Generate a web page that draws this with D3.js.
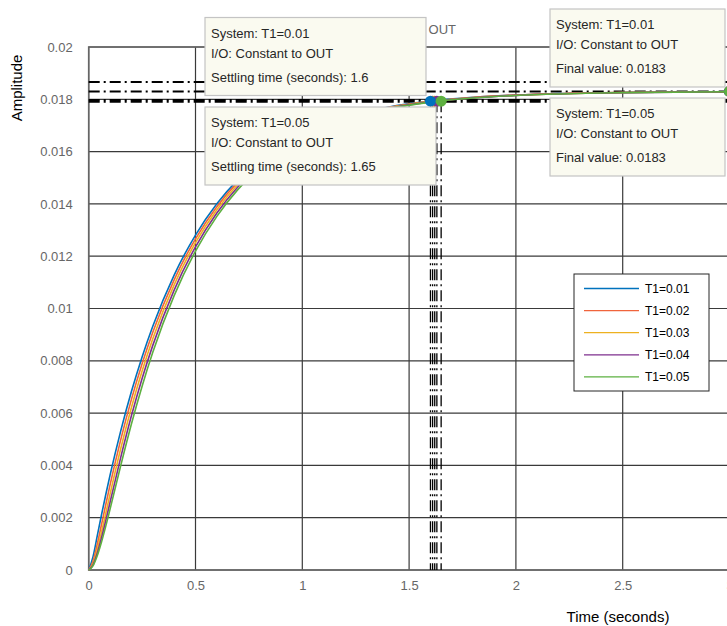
<!DOCTYPE html>
<html>
<head>
<meta charset="utf-8">
<script src="https://cdn.jsdelivr.net/npm/d3@7"></script>
<style>
  body { margin: 0; background: #fff; }
  text { font-family: "Liberation Sans", Arial, Helvetica, sans-serif; }
</style>
</head>
<body>
<svg id="chart" width="727" height="626"></svg>
<script>
// Data
var seriesNames = ["T1=0.01", "T1=0.02", "T1=0.03", "T1=0.04", "T1=0.05"];
var seriesColors = ["#0072BD", "#F0643C", "#EDB120", "#7E2F8E", "#5DB040"];

var timeSec = [0, 0.02, 0.04, 0.06, 0.08, 0.1, 0.15, 0.2, 0.25, 0.3, 0.4, 0.5, 0.6, 0.7, 0.8, 0.9, 1.0, 1.2, 1.4, 1.6, 1.8, 2.0, 2.5, 3.0];

var ampT1_001 = [0, 0.000501, 0.001304, 0.002112, 0.002887, 0.003626, 0.005322, 0.006823, 0.008149, 0.009323, 0.011279, 0.012808, 0.014004, 0.014940, 0.015672, 0.016245, 0.016692, 0.017317, 0.017698, 0.017932, 0.018075, 0.018162, 0.018260, 0.018288];
var ampT1_002 = [0, 0.000325, 0.000984, 0.001739, 0.002506, 0.003253, 0.004987, 0.006526, 0.007887, 0.009091, 0.011097, 0.012666, 0.013893, 0.014853, 0.015604, 0.016191, 0.016651, 0.017291, 0.017683, 0.017922, 0.018069, 0.018159, 0.018259, 0.018288];
var ampT1_003 = [0, 0.000239, 0.000777, 0.001449, 0.002170, 0.002900, 0.004644, 0.006216, 0.007611, 0.008847, 0.010906, 0.012517, 0.013777, 0.014762, 0.015533, 0.016135, 0.016607, 0.017264, 0.017666, 0.017912, 0.018063, 0.018155, 0.018258, 0.018287];
var ampT1_004 = [0, 0.000188, 0.000639, 0.001232, 0.001897, 0.002590, 0.004308, 0.005898, 0.007324, 0.008590, 0.010705, 0.012359, 0.013653, 0.014666, 0.015457, 0.016077, 0.016561, 0.017236, 0.017649, 0.017902, 0.018056, 0.018151, 0.018256, 0.018287];
var ampT1_005 = [0, 0.000155, 0.000542, 0.001069, 0.001677, 0.002329, 0.003996, 0.005584, 0.007029, 0.008323, 0.010493, 0.012193, 0.013523, 0.014564, 0.015377, 0.016014, 0.016512, 0.017206, 0.017631, 0.017891, 0.018050, 0.018147, 0.018255, 0.018287];
var amplitudes = [ampT1_001, ampT1_002, ampT1_003, ampT1_004, ampT1_005];

// characteristic markers
var settlingTimes = [1.6, 1.61, 1.62, 1.63, 1.65];
var settlingAmps = [0.01793, 0.01793, 0.01793, 0.01793, 0.01793];
var finalValues = [0.0183, 0.0183, 0.0183, 0.0183, 0.0183];
var finalTime = 3;
var refLevels = [0.01866, 0.0183, 0.01797, 0.01791];

var xTicks = [0, 0.5, 1, 1.5, 2, 2.5, 3];
var yTicks = [0, 0.002, 0.004, 0.006, 0.008, 0.01, 0.012, 0.014, 0.016, 0.018, 0.02];

var tipTexts = [
  ["System: T1=0.01", "I/O: Constant to OUT", "Settling time (seconds): 1.6"],
  ["System: T1=0.05", "I/O: Constant to OUT", "Settling time (seconds): 1.65"],
  ["System: T1=0.01", "I/O: Constant to OUT", "Final value: 0.0183"],
  ["System: T1=0.05", "I/O: Constant to OUT", "Final value: 0.0183"]
];

var svg = d3.select("#chart");
var plotLeft = 88.7, plotRight = 729.5, plotTop = 47, plotBottom = 570;

var x = d3.scaleLinear().domain([0, 3]).range([plotLeft, plotRight]);
var y = d3.scaleLinear().domain([0, 0.02]).range([plotBottom, plotTop]);

// grid
var grid = svg.append("g");
grid.selectAll(".gx").data(xTicks).enter().append("line")
  .attr("x1", d => x(d)).attr("x2", d => x(d))
  .attr("y1", plotTop).attr("y2", plotBottom)
  .attr("stroke", "#3a3a3a").attr("stroke-width", 1.2);
grid.selectAll(".gy").data(yTicks).enter().append("line")
  .attr("x1", plotLeft).attr("x2", plotRight)
  .attr("y1", d => y(d)).attr("y2", d => y(d))
  .attr("stroke", "#3a3a3a").attr("stroke-width", 1.2);

// axes box
svg.append("rect")
  .attr("x", plotLeft).attr("y", plotTop)
  .attr("width", plotRight - plotLeft).attr("height", plotBottom - plotTop)
  .attr("fill", "none").attr("stroke", "#666").attr("stroke-width", 1.6);

// tick labels
svg.append("g")
  .attr("transform", "translate(0," + plotBottom + ")")
  .call(d3.axisBottom(x).tickValues(xTicks).tickSize(0).tickPadding(11)
    .tickFormat(d => String(d)))
  .call(g => g.select(".domain").remove())
  .selectAll("text")
  .attr("fill", "#666").style("font-size", "13px")
  .style("font-family", "Liberation Sans, Arial, sans-serif");

svg.append("g")
  .attr("transform", "translate(" + plotLeft + ",0)")
  .call(d3.axisLeft(y).tickValues(yTicks).tickSize(0).tickPadding(16)
    .tickFormat(d => d === 0 ? "0" : String(+d.toFixed(3))))
  .call(g => g.select(".domain").remove())
  .selectAll("text")
  .attr("fill", "#666").style("font-size", "13px")
  .style("font-family", "Liberation Sans, Arial, sans-serif");

// axis labels and title
svg.append("text")
  .attr("transform", "translate(22,88) rotate(-90)")
  .attr("text-anchor", "middle")
  .style("font-size", "15px")
  .text("Amplitude");

svg.append("text")
  .attr("x", 618).attr("y", 622)
  .attr("text-anchor", "middle")
  .style("font-size", "15px")
  .text("Time (seconds)");

svg.append("text")
  .attr("x", 456).attr("y", 34)
  .attr("text-anchor", "end")
  .attr("fill", "#666")
  .style("font-size", "13px")
  .text("From: Constant  To: OUT");

// horizontal characteristic lines
svg.selectAll(".ref").data(refLevels).enter().append("line")
  .attr("x1", plotLeft).attr("x2", plotRight)
  .attr("y1", d => y(d)).attr("y2", d => y(d))
  .attr("stroke", "#000").attr("stroke-width", 2)
  .attr("stroke-dasharray", "11,4,2,4");

// step responses
var line = d3.line()
  .x((d, i) => x(timeSec[i]))
  .y(d => y(d))
  .curve(d3.curveMonotoneX);

svg.selectAll(".resp").data(amplitudes).enter().append("path")
  .attr("d", d => line(d))
  .attr("fill", "none")
  .attr("stroke", (d, i) => seriesColors[i])
  .attr("stroke-width", 1.6);

// settling time verticals
svg.selectAll(".settle").data(settlingTimes).enter().append("line")
  .attr("x1", d => x(d)).attr("x2", d => x(d))
  .attr("y1", (d, i) => y(settlingAmps[i])).attr("y2", plotBottom)
  .attr("stroke", "#000").attr("stroke-width", 1.3)
  .attr("stroke-dasharray", "11,4,2,4");

// markers: draw middle systems first, then first and last on top
var order = [1, 2, 3, 0, 4];
svg.selectAll(".fv").data(order).enter().append("circle")
  .attr("cx", x(finalTime)).attr("cy", i => y(finalValues[i]))
  .attr("r", 5.5).attr("fill", i => seriesColors[i]);
svg.selectAll(".st").data(order).enter().append("circle")
  .attr("cx", i => x(settlingTimes[i])).attr("cy", i => y(settlingAmps[i]))
  .attr("r", 5.5).attr("fill", i => seriesColors[i]);

// legend
var legend = svg.append("g").attr("transform", "translate(574,274)");
legend.append("rect")
  .attr("width", 135).attr("height", 117)
  .attr("fill", "#fff").attr("stroke", "#262626").attr("stroke-width", 1);
var items = legend.selectAll(".item").data(seriesNames).enter().append("g")
  .attr("transform", (d, i) => "translate(0," + (14.5 + i * 22.1) + ")");
items.append("line")
  .attr("x1", 10).attr("x2", 65)
  .attr("stroke", (d, i) => seriesColors[i]).attr("stroke-width", 1.3);
items.append("text")
  .attr("x", 71).attr("y", 4.5)
  .style("font-size", "12px")
  .text(d => d);

// data tips
var tipBoxes = [
  {x: 205, y: 17.5, w: 221, h: 78},
  {x: 205, y: 107, w: 231, h: 78},
  {x: 550, y: 9, w: 175, h: 78},
  {x: 550, y: 98, w: 175, h: 78}
];
var tips = svg.selectAll(".tip").data(tipTexts).enter().append("g")
  .attr("transform", (d, i) => "translate(" + tipBoxes[i].x + "," + tipBoxes[i].y + ")");
tips.append("rect")
  .attr("width", (d, i) => tipBoxes[i].w)
  .attr("height", (d, i) => tipBoxes[i].h)
  .attr("fill", "#FAFAF0").attr("stroke", "#c4c4c4").attr("stroke-width", 1.2);
tips.each(function(lines) {
  var g = d3.select(this);
  var offs = [20, 40, 64];
  lines.forEach(function(t, k) {
    g.append("text")
      .attr("x", 6).attr("y", offs[k])
      .attr("fill", "#262626")
      .style("font-size", "13px")
      .text(t);
  });
});
</script>
</body>
</html>
